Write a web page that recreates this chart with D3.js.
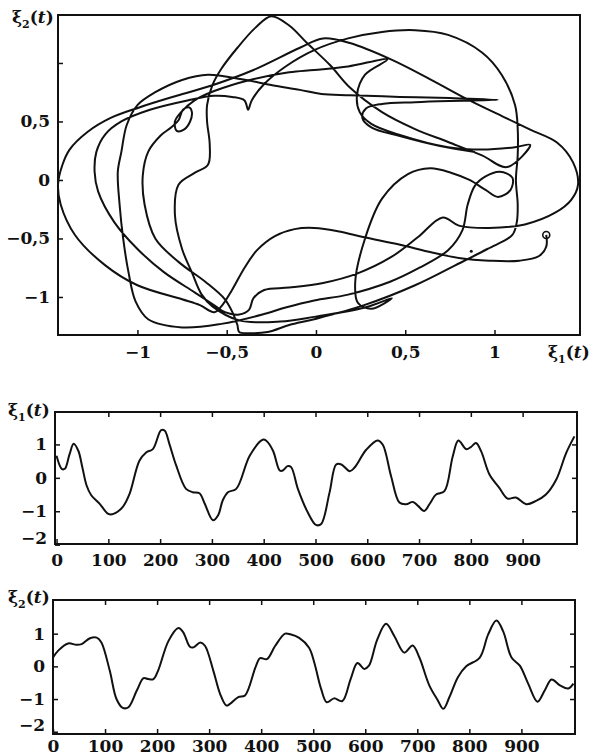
<!DOCTYPE html>
<html>
<head>
<meta charset="utf-8">
<script src="https://cdn.jsdelivr.net/npm/d3@7"></script>
<style>
  body { margin: 0; background: #fff; }
  svg { display: block; background: #fff; }
  .tick text { font-family: "DejaVu Serif", serif; font-weight: bold; font-size: 17px; fill: #111; }
  .tick line { stroke: #111; stroke-width: 1.5; }
  .domain { display: none; }
  .frame { fill: none; stroke: #111; stroke-width: 2; }
  .curve { fill: none; stroke: #111; stroke-width: 2; stroke-linejoin: round; }
  .title { font-family: "DejaVu Serif", serif; font-weight: bold; font-size: 17px; fill: #111; }
</style>
</head>
<body>
<svg id="chart" width="593" height="755"></svg>
<script>
// Phase portrait (xi1, xi2)
const startSeg = [[1.29,-0.47],[1.29,-0.57],[1.25,-0.65],[1.14,-0.69],[0.97,-0.69],[0.81,-0.67],[0.65,-0.62],[0.46,-0.55],[0.27,-0.49],[0.13,-0.44],[-0.01,-0.41],[-0.12,-0.42],[-0.23,-0.48],[-0.33,-0.60],[-0.40,-0.75],[-0.47,-0.94],[-0.53,-1.08],[-0.57,-1.13]];

const loop1 = [[-0.65,-1.07],[-0.75,-1.02],[-1.0,-0.90],[-1.18,-0.73],[-1.35,-0.47],[-1.43,-0.21],[-1.445,-0.04],[-1.42,0.13],[-1.38,0.26],[-1.28,0.41],[-1.15,0.53],[-0.99,0.62],[-0.78,0.72],[-0.58,0.81],[-0.35,0.94],[-0.09,1.13],[0.04,1.21],[0.19,1.17],[0.42,1.03],[0.64,0.86],[0.86,0.68],[1.05,0.54],[1.2,0.43],[1.35,0.32],[1.44,0.15],[1.468,-0.04],[1.43,-0.17],[1.34,-0.28],[1.17,-0.38],[0.97,-0.41],[0.80,-0.39],[0.71,-0.32],[0.57,-0.49],[0.42,-0.66],[0.23,-0.80],[0.04,-0.88],[-0.15,-0.92],[-0.29,-0.94],[-0.35,-1.01],[-0.375,-1.11],[-0.43,-1.15],[-0.51,-1.13]];

const loop2 = [[-0.58,-1.06],[-0.68,-0.96],[-0.85,-0.79],[-1.0,-0.59],[-1.13,-0.36],[-1.22,-0.10],[-1.24,0.07],[-1.23,0.24],[-1.18,0.39],[-1.09,0.50],[-0.93,0.60],[-0.72,0.68],[-0.57,0.72],[-0.47,0.71],[-0.40,0.68],[-0.38,0.60],[-0.36,0.68],[-0.29,0.82],[-0.17,0.97],[-0.01,1.11],[0.18,1.21],[0.37,1.265],[0.555,1.28],[0.74,1.24],[0.93,1.09],[1.04,0.90],[1.115,0.64],[1.13,0.44],[1.13,0.21],[1.12,0.0],[1.13,-0.21],[1.125,-0.36],[1.10,-0.47],[0.96,-0.59],[0.78,-0.73],[0.555,-0.90],[0.27,-1.07],[-0.01,-1.19],[-0.15,-1.24],[-0.27,-1.30],[-0.37,-1.31],[-0.43,-1.30],[-0.44,-1.24],[-0.465,-1.14]];

const loop3 = [[-0.51,-1.02],[-0.62,-0.87],[-0.77,-0.70],[-0.90,-0.50],[-0.96,-0.21],[-0.97,0.04],[-0.94,0.24],[-0.87,0.38],[-0.81,0.45],[-0.77,0.51],[-0.745,0.60],[-0.71,0.62],[-0.695,0.58],[-0.705,0.50],[-0.74,0.43],[-0.78,0.42],[-0.79,0.50],[-0.755,0.58],[-0.68,0.68],[-0.57,0.76],[-0.37,0.855],[-0.15,0.92],[-0.01,0.94],[0.18,0.97],[0.40,1.03],[0.275,0.90],[0.23,0.73],[0.245,0.58],[0.31,0.48],[0.47,0.385],[0.74,0.28],[0.93,0.26],[1.115,0.28],[1.20,0.30],[1.07,0.11],[0.93,0.21],[0.74,0.325],[0.555,0.435],[0.37,0.58],[0.19,0.79],[0.08,0.98],[-0.05,1.17],[-0.15,1.32],[-0.25,1.40],[-0.34,1.30],[-0.44,1.13],[-0.53,0.95],[-0.58,0.81],[-0.61,0.64],[-0.61,0.50],[-0.595,0.30],[-0.605,0.13],[-0.68,0.06],[-0.77,-0.04],[-0.79,-0.30],[-0.75,-0.59],[-0.695,-0.79],[-0.64,-0.98],[-0.58,-1.08]];

const loop4 = [[-0.43,-1.20],[-0.20,-1.21],[-0.01,-1.17],[0.275,-1.09],[0.425,-1.01],[0.31,-1.10],[0.235,-1.05],[0.22,-0.87],[0.275,-0.50],[0.37,-0.16],[0.515,0.05],[0.64,0.10],[0.76,0.06],[0.86,0.0],[0.95,-0.085],[1.02,-0.145],[1.09,-0.085],[1.10,0.02],[1.03,0.07],[0.95,0.03],[0.89,-0.05],[0.85,-0.21],[0.82,-0.43],[0.74,-0.60],[0.58,-0.75],[0.415,-0.87],[0.18,-0.98],[-0.01,-1.03],[-0.17,-1.09],[-0.30,-1.15],[-0.53,-1.23],[-0.75,-1.26],[-0.94,-1.19],[-1.01,-1.04],[-1.05,-0.79],[-1.08,-0.50],[-1.10,-0.21],[-1.11,0.07],[-1.09,0.24],[-1.06,0.47],[-1.0,0.64],[-0.90,0.75],[-0.75,0.855],[-0.605,0.90],[-0.415,0.86],[-0.245,0.81],[-0.09,0.77],[0.03,0.735],[0.19,0.725],[0.47,0.71],[0.75,0.70],[1.02,0.685],[0.75,0.675],[0.555,0.665],[0.37,0.65],[0.28,0.61],[0.26,0.53],[0.31,0.45],[0.47,0.375],[0.695,0.29],[0.89,0.24]];

const startMark = [1.29, -0.47];
const strayDot = [0.87, -0.61];

const phaseXTicks = [-1, -0.5, 0, 0.5, 1];
const phaseYTicks = [-1, -0.5, 0, 0.5, 1];

// Time series
const time1 = [0,10,16,25,33,42,50,58,67,83,100,110,128,141,160,173,186,202,209,218,231,250,263,276,286,302,312,321,331,347,373,398,405,418,431,437,446,453,466,485,501,511,527,540,550,566,575,598,620,630,646,662,675,688,698,710,720,733,749,765,776,791,800,810,820,836,855,871,887,907,926,945,965,984,1000];
const xi1 = [0.66,0.27,0.27,0.7,1.02,0.81,0.3,-0.23,-0.52,-0.77,-1.08,-1.08,-0.87,-0.48,0.51,0.76,0.86,1.43,1.41,1.01,0.37,-0.33,-0.43,-0.46,-0.77,-1.27,-1.12,-0.67,-0.43,-0.33,0.66,1.14,1.11,0.81,0.22,0.22,0.35,0.32,-0.33,-1.03,-1.41,-1.38,-0.45,0.4,0.4,0.2,0.3,0.84,1.12,0.99,0.05,-0.74,-0.79,-0.72,-0.84,-0.99,-0.79,-0.5,-0.4,0.64,1.12,0.86,0.92,1.04,0.79,0.1,-0.3,-0.62,-0.59,-0.79,-0.69,-0.5,-0.05,0.74,1.24];

const time2 = [0,10,29,45,55,71,84,93,109,122,134,145,161,174,183,193,202,222,241,250,263,270,283,292,308,321,333,340,356,369,389,398,411,427,446,456,473,492,502,515,526,540,556,572,585,598,607,623,640,656,675,691,704,723,739,750,762,778,794,820,836,852,865,881,897,913,931,945,958,974,990,1000];
const xi2 = [0.27,0.48,0.7,0.66,0.68,0.86,0.88,0.73,-0.13,-1.0,-1.27,-1.25,-0.74,-0.36,-0.39,-0.39,-0.13,0.78,1.17,1.05,0.6,0.58,0.73,0.63,-0.13,-0.84,-1.2,-1.15,-0.94,-0.89,-0.03,0.25,0.22,0.63,1.0,0.98,0.87,0.57,0.12,-0.68,-1.1,-0.98,-1.06,-0.38,0.1,-0.08,0.02,0.82,1.3,0.92,0.42,0.64,0.27,-0.58,-1.03,-1.3,-0.93,-0.33,0.0,0.27,0.97,1.4,1.07,0.27,0.02,-0.53,-1.08,-0.73,-0.4,-0.58,-0.68,-0.53];

const timeTicks = [0, 100, 200, 300, 400, 500, 600, 700, 800, 900];
const valueTicks = [1, 0, -1, -2];

const svg = d3.select('#chart');
const fmt = d => String(d).replace('.', ',').replace('-', '\u2212');

function axisTitle(x, y, sub) {
  const t = svg.append('text').attr('class', 'title').attr('x', x).attr('y', y);
  t.append('tspan').text('\u03BE');
  t.append('tspan').attr('font-size', '11px').attr('dy', 5).text(sub);
  t.append('tspan').attr('dy', -5).text('(');
  t.append('tspan').attr('font-style', 'italic').text('t');
  t.append('tspan').text(')');
}

// ---- Phase portrait ----
function renderPhase() {
  const x = d3.scaleLinear().domain([-1.445, 1.479]).range([58, 580]);
  const y = d3.scaleLinear().domain([-1.325, 1.41]).range([335, 15]);

  svg.append('g')
    .attr('transform', 'translate(0,335)')
    .call(d3.axisBottom(x).tickValues(phaseXTicks).tickSize(-5).tickPadding(11).tickFormat(fmt));

  svg.append('g')
    .attr('transform', 'translate(58,0)')
    .call(d3.axisLeft(y).tickValues(phaseYTicks).tickSize(-5).tickPadding(8)
      .tickFormat(d => d === 1 ? '' : fmt(d)));

  const path = startSeg.concat(loop1, loop2, loop3, loop4);
  const line = d3.line()
    .x(d => x(d[0]))
    .y(d => y(d[1]))
    .curve(d3.curveCatmullRom.alpha(0.5));

  svg.append('path').attr('class', 'curve').attr('d', line(path));

  svg.append('circle')
    .attr('cx', x(startMark[0])).attr('cy', y(startMark[1])).attr('r', 3.5)
    .attr('fill', 'none').attr('stroke', '#111').attr('stroke-width', 1.6);
  svg.append('circle')
    .attr('cx', x(strayDot[0])).attr('cy', y(strayDot[1])).attr('r', 1.5)
    .attr('fill', '#111');

  svg.append('rect').attr('class', 'frame')
    .attr('x', 58).attr('y', 15).attr('width', 522).attr('height', 320);

  axisTitle(12, 23, '2');
  axisTitle(548, 358, '1');
}

// ---- Time series panels ----
function renderSeries(cfg) {
  const { top, bottom, left, right, tDomain, vDomain, times, values, padBottom, sub, titleY } = cfg;
  const x = d3.scaleLinear().domain(tDomain).range([left, right]);
  const y = d3.scaleLinear().domain(vDomain).range([bottom, top]);

  svg.append('g')
    .attr('transform', `translate(0,${bottom})`)
    .call(d3.axisBottom(x).tickValues(timeTicks).tickSize(-5).tickPadding(padBottom).tickFormat(d3.format('d')));
  svg.append('g')
    .attr('transform', `translate(0,${top})`)
    .call(d3.axisTop(x).tickValues(timeTicks.slice(1)).tickSize(-5).tickFormat(''));

  const yAxis = svg.append('g')
    .attr('transform', `translate(${left},0)`)
    .call(d3.axisLeft(y).tickValues(valueTicks).tickSize(-5).tickPadding(8).tickFormat(fmt));
  // the -2 label sits a little above the bottom edge
  yAxis.selectAll('.tick text').filter(d => d === -2).attr('dy', '-0.05em');

  svg.append('g')
    .attr('transform', `translate(${right},0)`)
    .call(d3.axisRight(y).tickValues([1, 0, -1]).tickSize(-5).tickFormat(''));

  const line = d3.line()
    .x((d, i) => x(times[i]))
    .y(d => y(d))
    .curve(d3.curveCatmullRom.alpha(0.5));
  svg.append('path').attr('class', 'curve').attr('d', line(values));

  svg.append('rect').attr('class', 'frame')
    .attr('x', left).attr('y', top).attr('width', right - left).attr('height', bottom - top);

  axisTitle(8, titleY, sub);
}

renderPhase();
renderSeries({ top: 412, bottom: 544, left: 55, right: 577, tDomain: [-3, 1005], vDomain: [-1.98, 1.97],
  times: time1, values: xi1, padBottom: 10, sub: '1', titleY: 416 });
renderSeries({ top: 600, bottom: 734, left: 53, right: 575, tDomain: [0, 1003], vDomain: [-2.07, 2.03],
  times: time2, values: xi2, padBottom: 6, sub: '2', titleY: 603 });
</script>
</body>
</html>
